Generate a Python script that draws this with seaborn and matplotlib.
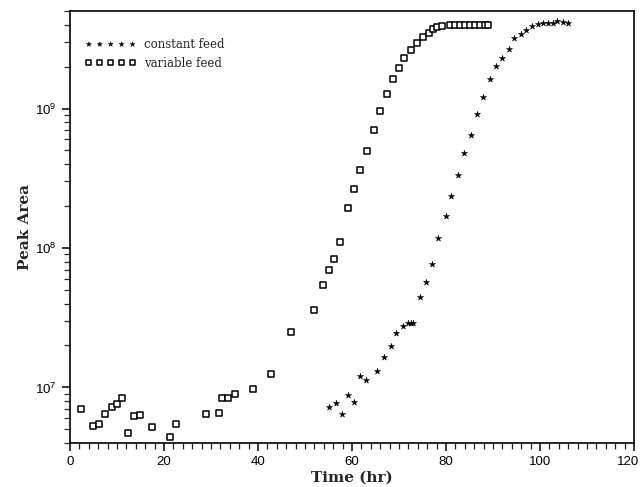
import matplotlib
matplotlib.use("Agg")
import matplotlib.pyplot as plt
import matplotlib.ticker as mticker
from matplotlib.transforms import ScaledTranslation
import seaborn as sns
import pandas as pd

# variable feed (open squares)
var_time = [2.3, 4.8, 6.2, 7.4, 8.9, 9.9, 11.0, 12.3, 13.6, 14.9, 17.5, 21.3, 22.6,
            28.9, 31.7, 32.4, 33.7, 35.0, 38.9, 42.8, 47.0, 51.9, 53.8, 55.2, 56.1,
            57.5, 59.1, 60.4, 61.7, 63.1, 64.6, 66.0, 67.4, 68.7, 69.9, 71.1, 72.6,
            73.8, 75.0, 76.3, 77.3, 78.0, 79.1, 80.9, 81.9, 83.0, 84.0, 85.1, 86.2,
            87.2, 88.2, 89.0]
var_area = [7.05e6, 5.3e6, 5.5e6, 6.5e6, 7.2e6, 7.6e6, 8.4e6, 4.7e6, 6.25e6, 6.4e6,
            5.2e6, 4.4e6, 5.5e6, 6.5e6, 6.6e6, 8.4e6, 8.4e6, 9.0e6, 9.7e6, 1.25e7,
            2.48e7, 3.57e7, 5.47e7, 6.95e7, 8.3e7, 1.1e8, 1.92e8, 2.64e8, 3.62e8,
            4.94e8, 7.0e8, 9.6e8, 1.28e9, 1.62e9, 1.96e9, 2.31e9, 2.62e9, 2.94e9,
            3.25e9, 3.49e9, 3.69e9, 3.84e9, 3.90e9, 3.95e9, 3.95e9, 3.95e9, 3.95e9,
            3.95e9, 3.95e9, 3.95e9, 3.95e9, 3.95e9]

# constant feed (stars)
const_time = [55.2, 56.6, 57.8, 59.2, 60.4, 61.6, 63.0, 65.4, 66.8, 68.2, 69.4, 70.8,
              72.0, 72.6, 73.0, 74.4, 75.7, 77.1, 78.4, 79.9, 81.1, 82.5, 83.9, 85.3,
              86.7, 87.9, 89.4, 90.6, 92.0, 93.3, 94.5, 95.9, 97.0, 98.4, 99.5, 100.7,
              101.8, 102.7, 103.7, 104.8, 106.0]
const_area = [7.3e6, 7.8e6, 6.5e6, 8.8e6, 7.9e6, 1.2e7, 1.13e7, 1.31e7, 1.66e7, 1.98e7,
              2.46e7, 2.76e7, 2.92e7, 2.92e7, 2.92e7, 4.47e7, 5.68e7, 7.7e7, 1.18e8,
              1.70e8, 2.36e8, 3.32e8, 4.8e8, 6.5e8, 9.2e8, 1.2e9, 1.62e9, 2.01e9, 2.32e9,
              2.66e9, 3.2e9, 3.43e9, 3.63e9, 3.90e9, 4.03e9, 4.09e9, 4.12e9, 4.12e9,
              4.21e9, 4.17e9, 4.12e9]

series_labels = ["constant feed", "variable feed"]
x_ticks = [0, 20, 40, 60, 80, 100, 120]

sns.set_style("ticks")
plt.rcParams["font.family"] = ["Liberation Sans", "DejaVu Sans"]

df_c = pd.DataFrame({"t": const_time, "a": const_area})
df_v = pd.DataFrame({"t": var_time, "a": var_area})

fig = plt.figure(figsize=(6.44, 4.87), dpi=100)
ax = fig.add_axes([70 / 644, 1 - 443 / 487, (634 - 70) / 644, (443 - 11) / 487])

sns.scatterplot(data=df_c, x="t", y="a", ax=ax, marker="*", s=22, color="black",
                edgecolor="black", linewidth=0.3, label=series_labels[0])
sns.scatterplot(data=df_v, x="t", y="a", ax=ax, marker="s", s=22, facecolor="white",
                edgecolor="black", linewidth=1.1, label=series_labels[1])

ax.set_yscale("log")
ax.set_xlim(0, 120)
ax.set_ylim(4e6, 5e9)
ax.set_xticks(x_ticks)
ax.xaxis.set_minor_locator(mticker.MultipleLocator(2))
ax.yaxis.set_major_locator(mticker.LogLocator(base=10, numticks=10))
ax.yaxis.set_minor_locator(mticker.LogLocator(base=10, subs=range(2, 10), numticks=20))
ax.yaxis.set_minor_formatter(mticker.NullFormatter())

for s in ax.spines.values():
    s.set_visible(True)
    s.set_linewidth(1.2)
    s.set_color("black")

ax.tick_params(axis="both", which="major", direction="out", length=6, width=1.1,
               labelsize=9.5, colors="black", top=False, right=False)
ax.tick_params(axis="both", which="minor", direction="out", length=4, width=0.9,
               top=False, right=False)

# nudge the last x tick label so it stays inside the figure
last = ax.get_xticklabels()[-1]
last.set_transform(last.get_transform() + ScaledTranslation(-4 / 72, 0, fig.dpi_scale_trans))

ax.set_xlabel("Time (hr)", family="DejaVu Serif", fontweight="bold", fontsize=11, labelpad=2)
ax.set_ylabel("Peak Area", family="DejaVu Serif", fontweight="bold", fontsize=11, labelpad=2)

leg = ax.legend(loc="upper left", bbox_to_anchor=(0.0, 0.972), scatterpoints=5, frameon=False,
                prop={"family": "DejaVu Serif", "size": 8.5},
                handlelength=4.3, handletextpad=0.7, labelspacing=0.45,
                borderaxespad=0.9, scatteryoffsets=[0.5], markerscale=0.8)

fig.savefig("out.png", dpi=100, facecolor="white")
